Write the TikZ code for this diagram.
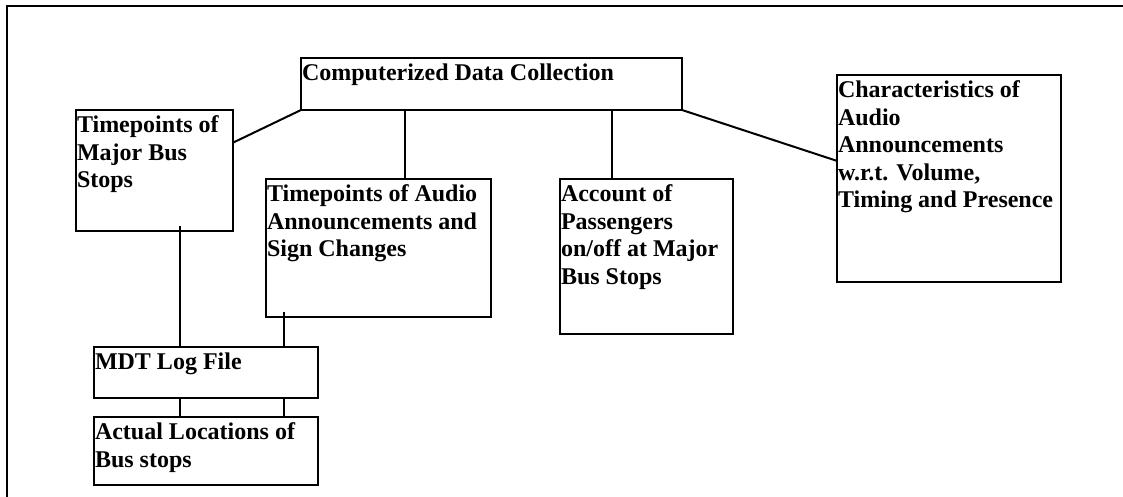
\documentclass[tikz,border=0pt]{standalone}
\usepackage{fontspec}
\setmainfont{Liberation Serif}
\usetikzlibrary{calc}
\tikzset{
  blk/.style n args={2}{draw, rectangle, anchor=north west, inner sep=0pt, outer sep=0pt,
    minimum width=#1*0.5pt, minimum height=#2*0.5pt},
  blktext/.style={anchor=north west, inner xsep=0pt, inner ysep=2.5pt, align=left,
    font=\fontsize{12}{13.7}\selectfont\bfseries},
}

\begin{document}
\begin{tikzpicture}[x=0.5pt, y=-0.5pt, line width=1pt]
\useasboundingbox (0,0) rectangle (1123,497);
% page frame, only top and left sides are on the page
\draw (1123,6) -- (7,6) -- (7,497);

\node[blk={381}{52},  label={[blktext]north west:{Computerized Data Collection}}] (cdc) at (301,58) {};
\node[blk={157}{121}, label={[blktext]north west:{Timepoints of\\Major Bus\\Stops}}] (major) at (76,110) {};
\node[blk={225}{138}, label={[blktext]north west:{Timepoints of Audio\\Announcements and\\Sign Changes}}] (audio) at (266,179) {};
\node[blk={173}{155}, label={[blktext]north west:{Account of\\Passengers\\on/off at Major\\Bus Stops}}] (account) at (560,179) {};
\node[blk={224}{207}, label={[blktext]north west:{Characteristics of\\Audio\\Announcements\\w.r.t. Volume,\\Timing and Presence}}] (charac) at (837,75) {};
\node[blk={224}{51},  label={[blktext]north west:{MDT Log File}}] (mdt) at (94,347) {};
\node[blk={224}{68},  label={[blktext]north west:{Actual Locations of\\Bus stops}}] (actual) at (94,417) {};

% branches out of the top box
\draw (cdc.south west) -- ($(major.north east)!0.27!(major.south east)$);
\draw (cdc.south -| 405,0) -- (audio.north -| 405,0);
\draw (cdc.south -| 612,0) -- (account.north -| 612,0);
\draw (cdc.south east) -- ($(charac.north west)!0.415!(charac.south west)$);

% log file links
\draw ($(major.south -| 180,0)+(0,-5)$) -- (mdt.north -| 180,0);
\draw ($(audio.south -| 284,0)+(0,-5)$) -- (mdt.north -| 284,0);
\foreach \x in {180,284}
  \draw (mdt.south -| \x,0) -- (actual.north -| \x,0);
\end{tikzpicture}
\end{document}
